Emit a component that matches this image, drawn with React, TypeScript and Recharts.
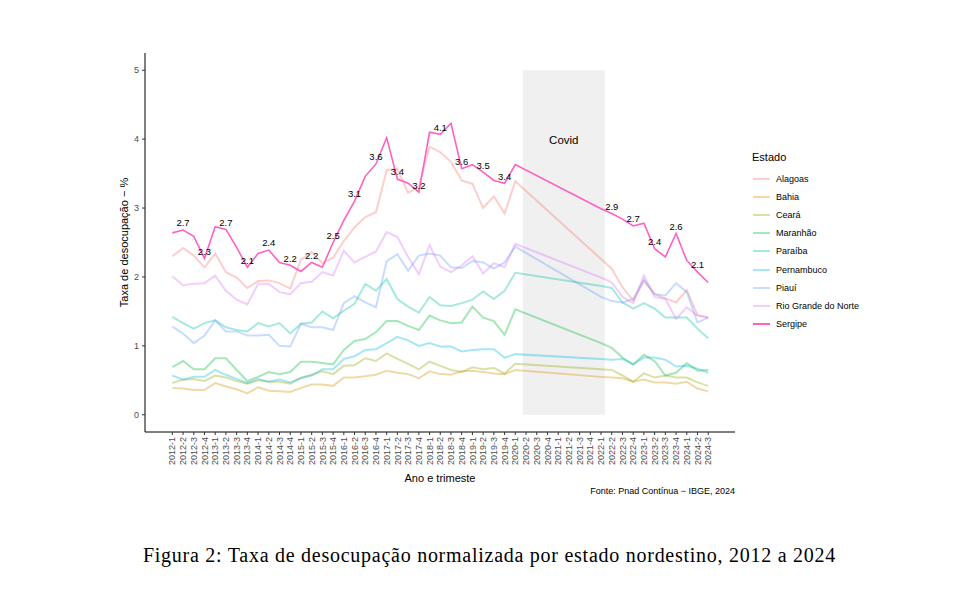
import { LineChart, Line, XAxis, YAxis, ReferenceArea, LabelList } from 'recharts'

const quarters = [
  '2012-1', '2012-2', '2012-3', '2012-4', '2013-1', '2013-2', '2013-3', '2013-4',
  '2014-1', '2014-2', '2014-3', '2014-4', '2015-1', '2015-2', '2015-3', '2015-4',
  '2016-1', '2016-2', '2016-3', '2016-4', '2017-1', '2017-2', '2017-3', '2017-4',
  '2018-1', '2018-2', '2018-3', '2018-4', '2019-1', '2019-2', '2019-3', '2019-4',
  '2020-1', '2020-2', '2020-3', '2020-4', '2021-1', '2021-2', '2021-3', '2021-4',
  '2022-1', '2022-2', '2022-3', '2022-4', '2023-1', '2023-2', '2023-3', '2023-4',
  '2024-1', '2024-2', '2024-3',
]

// 2020-2 .. 2021-4 sem dados (covid)
const gap = [null, null, null, null, null, null, null]

const alagoas = [
  2.30, 2.42, 2.31, 2.14, 2.34, 2.07, 1.99, 1.84, 1.94, 1.95, 1.91, 1.83, 2.25, 2.36, 2.20, 2.28,
  2.52, 2.72, 2.87, 2.94, 3.55, 3.57, 3.22, 3.31, 3.89, 3.81, 3.67, 3.40, 3.35, 3.00, 3.17, 2.92, 3.39,
  ...gap,
  2.26, 2.12, 1.85, 1.66, 1.94, 1.75, 1.69, 1.63, 1.81, 1.45, 1.41,
]
const bahia = [
  0.39, 0.38, 0.36, 0.36, 0.46, 0.41, 0.37, 0.31, 0.40, 0.35, 0.34, 0.33, 0.39, 0.44, 0.44, 0.42,
  0.54, 0.54, 0.56, 0.58, 0.64, 0.61, 0.59, 0.53, 0.63, 0.59, 0.58, 0.63, 0.64, 0.62, 0.60, 0.59, 0.65,
  ...gap,
  0.55, 0.54, 0.53, 0.48, 0.51, 0.47, 0.47, 0.45, 0.48, 0.38, 0.34,
]
const ceara = [
  0.46, 0.51, 0.52, 0.49, 0.57, 0.54, 0.49, 0.45, 0.50, 0.48, 0.48, 0.45, 0.54, 0.58, 0.63, 0.59,
  0.71, 0.72, 0.82, 0.78, 0.89, 0.81, 0.74, 0.66, 0.77, 0.71, 0.65, 0.62, 0.69, 0.66, 0.68, 0.60, 0.74,
  ...gap,
  0.66, 0.65, 0.57, 0.48, 0.60, 0.54, 0.57, 0.54, 0.54, 0.47, 0.42,
]
const maranhao = [
  0.69, 0.78, 0.66, 0.66, 0.82, 0.82, 0.65, 0.49, 0.55, 0.62, 0.59, 0.62, 0.77, 0.77, 0.75, 0.73,
  0.94, 1.07, 1.10, 1.20, 1.36, 1.36, 1.29, 1.23, 1.44, 1.37, 1.33, 1.34, 1.57, 1.41, 1.36, 1.16, 1.53,
  ...gap,
  1.04, 0.97, 0.83, 0.73, 0.87, 0.78, 0.57, 0.61, 0.75, 0.64, 0.65,
]
const paraiba = [
  1.42, 1.33, 1.25, 1.33, 1.37, 1.27, 1.23, 1.21, 1.33, 1.28, 1.33, 1.18, 1.32, 1.34, 1.50, 1.40,
  1.51, 1.61, 1.90, 1.80, 1.97, 1.68, 1.57, 1.48, 1.71, 1.59, 1.58, 1.62, 1.67, 1.79, 1.68, 1.80, 2.06,
  ...gap,
  1.87, 1.84, 1.63, 1.54, 1.62, 1.54, 1.41, 1.41, 1.41, 1.25, 1.11,
]
const pernambuco = [
  0.57, 0.51, 0.55, 0.55, 0.65, 0.58, 0.52, 0.46, 0.52, 0.48, 0.51, 0.47, 0.53, 0.57, 0.66, 0.66,
  0.81, 0.85, 0.94, 0.95, 1.04, 1.13, 1.08, 1.00, 1.04, 0.99, 0.99, 0.92, 0.94, 0.95, 0.95, 0.83, 0.88,
  ...gap,
  0.81, 0.80, 0.81, 0.73, 0.83, 0.83, 0.80, 0.70, 0.71, 0.67, 0.61,
]
const piaui = [
  1.28, 1.18, 1.04, 1.15, 1.37, 1.21, 1.21, 1.15, 1.15, 1.16, 1.00, 0.99, 1.32, 1.27, 1.27, 1.23,
  1.62, 1.72, 1.63, 1.56, 2.23, 2.33, 2.09, 2.31, 2.34, 2.31, 2.14, 2.13, 2.23, 2.21, 2.12, 2.21, 2.44,
  ...gap,
  1.71, 1.65, 1.63, 1.68, 1.96, 1.75, 1.73, 1.91, 1.78, 1.34, 1.41,
]
const rioGrandeNorte = [
  2.01, 1.88, 1.90, 1.91, 2.02, 1.80, 1.67, 1.60, 1.90, 1.90, 1.78, 1.75, 1.91, 1.93, 2.07, 2.02,
  2.38, 2.21, 2.29, 2.37, 2.65, 2.58, 2.29, 2.04, 2.46, 2.15, 2.07, 2.17, 2.30, 2.05, 2.20, 2.14, 2.48,
  ...gap,
  1.99, 1.92, 1.71, 1.62, 2.02, 1.71, 1.68, 1.39, 1.56, 1.44, 1.41,
]
const sergipe = [
  2.64, 2.68, 2.59, 2.27, 2.73, 2.69, 2.43, 2.14, 2.34, 2.39, 2.21, 2.17, 2.08, 2.21, 2.14, 2.50,
  2.82, 3.10, 3.46, 3.64, 4.02, 3.42, 3.36, 3.23, 4.10, 4.07, 4.23, 3.57, 3.63, 3.52, 3.40, 3.36, 3.63,
  ...gap,
  2.99, 2.92, 2.84, 2.74, 2.78, 2.41, 2.29, 2.63, 2.24, 2.07, 1.92,
]

const estados = [
  { key: 'Alagoas', color: '#F8766D', values: alagoas },
  { key: 'Bahia', color: '#D39200', values: bahia },
  { key: 'Ceará', color: '#93AA00', values: ceara },
  { key: 'Maranhão', color: '#00BA38', values: maranhao },
  { key: 'Paraíba', color: '#00C19F', values: paraiba },
  { key: 'Pernambuco', color: '#00B9E3', values: pernambuco },
  { key: 'Piauí', color: '#619CFF', values: piaui },
  { key: 'Rio Grande do Norte', color: '#DB72FB', values: rioGrandeNorte },
  { key: 'Sergipe', color: '#FF61C3', values: sergipe },
]

const yTicks = [0, 1, 2, 3, 4, 5]
const covidStart = 32.7
const covidEnd = 40.35

const data = quarters.map((q, i) => {
  const row: Record<string, any> = { idx: i, trimestre: q }
  estados.forEach((e) => { row[e.key] = e.values[i] })
  return row
})

const font = '"Liberation Sans", Arial, sans-serif'

function XTick({ x, y, payload }: any) {
  return (
    <text
      x={x}
      y={y}
      transform={`rotate(-90, ${x}, ${y})`}
      textAnchor="end"
      dy="0.35em"
      fontSize={9}
      fontFamily={font}
      fill="#4d4d4d"
    >
      {quarters[payload.value]}
    </text>
  )
}

// rótulo a cada dois trimestres
function sergipeLabel(props: any) {
  const { x, y, value, index } = props
  if (value == null || index % 2 === 0) return null
  return (
    <text x={x} y={y - 7} dy="0.35em" textAnchor="middle" fontSize={9.5} fontFamily={font} fill="#000">
      {Number(value).toFixed(1)}
    </text>
  )
}

export default function App() {
  return (
    <div style={{ position: 'absolute', left: 0, top: 0, width: 959, height: 604, background: '#fff', fontFamily: font }}>
      <LineChart
        width={959}
        height={500}
        data={data}
        margin={{ top: 53, right: 224, bottom: 18, left: 115 }}
      >
        <XAxis
          dataKey="idx"
          type="number"
          domain={[-2.55, 52.5]}
          allowDataOverflow
          ticks={quarters.map((_, i) => i)}
          interval={0}
          tick={<XTick />}
          tickSize={3}
          tickMargin={2}
          height={50}
          stroke="#000"
          tickLine={{ stroke: '#333' }}
          label={{ value: 'Ano e trimeste', position: 'insideBottom', offset: 0, fontSize: 11, fill: '#000', fontFamily: font }}
        />
        <YAxis
          type="number"
          domain={[-0.25, 5.25]}
          allowDataOverflow
          ticks={yTicks}
          width={30}
          tickSize={3}
          tickMargin={3}
          stroke="#000"
          tickLine={{ stroke: '#333' }}
          tick={{ fontSize: 9, fill: '#4d4d4d', fontFamily: font }}
          label={{ value: 'Taxa de desocupação − %', angle: -90, position: 'insideLeft', offset: 9, style: { textAnchor: 'middle' }, fontSize: 11, fill: '#000', fontFamily: font }}
        />
        <ReferenceArea
          x1={covidStart}
          x2={covidEnd}
          y1={0}
          y2={5}
          fill="#f0f0f0"
          fillOpacity={1}
          stroke="none"
          label={{ value: 'Covid', position: 'insideTop', offset: 66, fontSize: 11.5, fill: '#000', fontFamily: font }}
        />
        {estados.map((e) => {
          const main = e.key === 'Sergipe'
          return (
            <Line
              key={e.key}
              type="linear"
              dataKey={e.key}
              stroke={e.color}
              strokeWidth={main ? 1.6 : 2}
              strokeOpacity={main ? 1 : 0.35}
              dot={false}
              activeDot={false}
              connectNulls
              isAnimationActive={false}
            >
              {main && <LabelList dataKey={e.key} content={sergipeLabel} />}
            </Line>
          )
        })}
      </LineChart>

      <div style={{ position: 'absolute', left: 752, top: 149, fontSize: 11, color: '#000' }}>
        <div style={{ height: 16, lineHeight: '16px' }}>Estado</div>
        <div style={{ marginTop: 5 }}>
          {estados.map((e) => (
            <div key={e.key} style={{ display: 'flex', alignItems: 'center', height: 18.1 }}>
              <div style={{ width: 17, height: 2, background: e.color, opacity: e.key === 'Sergipe' ? 1 : 0.35, marginLeft: 1, marginRight: 6 }} />
              <span style={{ fontSize: 9 }}>{e.key}</span>
            </div>
          ))}
        </div>
      </div>

      <div style={{ position: 'absolute', right: 959 - 735, top: 486, fontSize: 9, color: '#000', whiteSpace: 'nowrap' }}>
        Fonte: Pnad Contínua − IBGE, 2024
      </div>

      <div style={{ position: 'absolute', left: 0, width: 979, top: 544, textAlign: 'center', fontFamily: '"Liberation Serif", "Times New Roman", serif', fontSize: 20, letterSpacing: 0.74, color: '#000', whiteSpace: 'nowrap' }}>
        Figura 2: Taxa de desocupação normalizada por estado nordestino, 2012 a 2024
      </div>
    </div>
  )
}
